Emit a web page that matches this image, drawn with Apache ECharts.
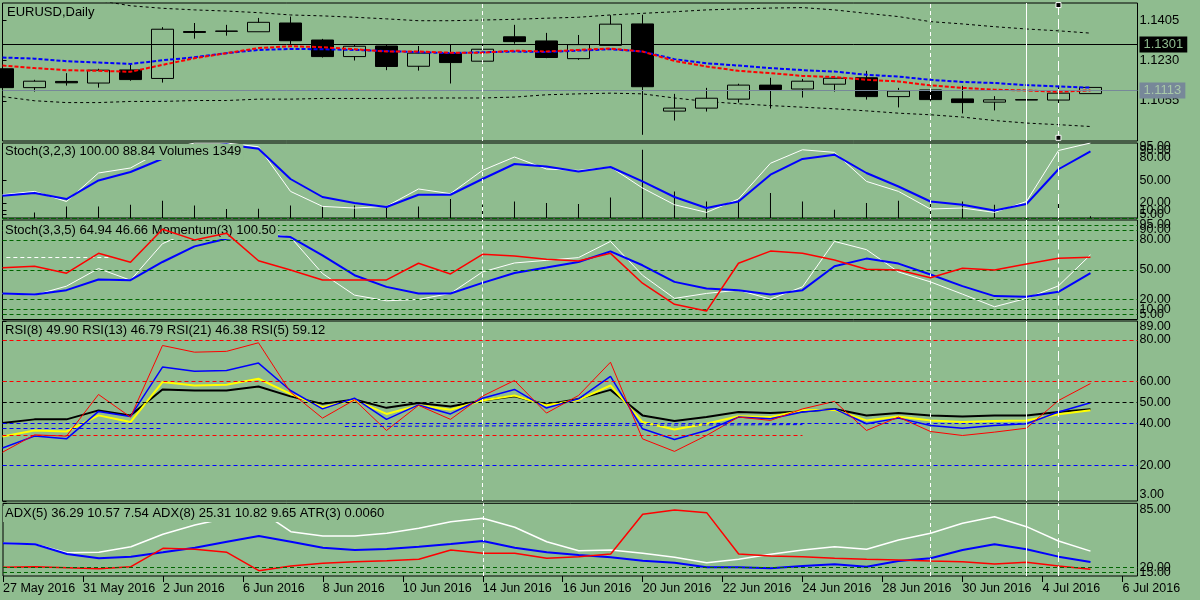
<!DOCTYPE html>
<html>
<head>
<meta charset="utf-8">
<script src="https://cdn.jsdelivr.net/npm/echarts@6/dist/echarts.min.js"></script>
<style>
  html, body { margin: 0; padding: 0; background: #8fbc8f; }
  #chart { width: 1200px; height: 600px; }
</style>
</head>
<body>
<div id="chart"></div>
<script>
// ---- data (one entry per daily bar) ----
const dateLabels = ["27 May 2016", "31 May 2016", "2 Jun 2016", "6 Jun 2016", "8 Jun 2016",
  "10 Jun 2016", "14 Jun 2016", "16 Jun 2016", "20 Jun 2016", "22 Jun 2016", "24 Jun 2016",
  "28 Jun 2016", "30 Jun 2016", "4 Jul 2016", "6 Jul 2016"];

const opens  = [1.1194, 1.1112, 1.1139, 1.1132, 1.1189, 1.1152, 1.1356, 1.1358, 1.1355, 1.1393,
  1.1319, 1.1247, 1.1293, 1.1205, 1.1260, 1.1227, 1.1333, 1.1315, 1.1238, 1.1296,
  1.1389, 1.1010, 1.1023, 1.1062, 1.1123, 1.1106, 1.1127, 1.1155, 1.1073, 1.1102,
  1.1063, 1.1049, 1.1058, 1.1058, 1.1086];
const closes = [1.1112, 1.1140, 1.1133, 1.1188, 1.1147, 1.1366, 1.1352, 1.1357, 1.1396, 1.1316,
  1.1247, 1.1292, 1.1204, 1.1262, 1.1221, 1.1279, 1.1312, 1.1243, 1.1299, 1.1388,
  1.1116, 1.1023, 1.1066, 1.1123, 1.1104, 1.1140, 1.1153, 1.1073, 1.1097, 1.1060,
  1.1047, 1.1059, 1.1060, 1.1088, 1.1113];
const lows   = [1.1105, 1.1095, 1.1121, 1.1112, 1.1142, 1.1134, 1.1325, 1.1338, 1.1355, 1.1302,
  1.1243, 1.1230, 1.1188, 1.1186, 1.1130, 1.1224, 1.1303, 1.1240, 1.1233, 1.1296,
  1.0907, 1.0969, 1.1008, 1.1047, 1.1021, 1.1069, 1.1095, 1.1060, 1.1026, 1.1055,
  1.1000, 1.1013, 1.1049, 1.1040, 1.1086];
const highs  = [1.1198, 1.1146, 1.1175, 1.1194, 1.1218, 1.1375, 1.1393, 1.1385, 1.1415, 1.1421,
  1.1324, 1.1301, 1.1301, 1.1293, 1.1301, 1.1298, 1.1385, 1.1350, 1.1341, 1.1427,
  1.1429, 1.1085, 1.1111, 1.1129, 1.1155, 1.1150, 1.1163, 1.1185, 1.1111, 1.1106,
  1.1120, 1.1075, 1.1123, 1.1117, 1.1113];

const maBlue = [1.1243, 1.1238, 1.1227, 1.1221, 1.1215, 1.1231, 1.1244, 1.1262, 1.1276, 1.1280,
  1.1279, 1.1276, 1.1271, 1.1266, 1.1262, 1.1266, 1.1269, 1.1267, 1.1273, 1.1279,
  1.1269, 1.1236, 1.1218, 1.1208, 1.1197, 1.1188, 1.1182, 1.1168, 1.1160, 1.1146,
  1.1137, 1.1132, 1.1123, 1.1117, 1.1112];
const maRed  = [1.1208, 1.1197, 1.1188, 1.1185, 1.1181, 1.1211, 1.1240, 1.1262, 1.1284, 1.1292,
  1.1288, 1.1279, 1.1269, 1.1269, 1.1264, 1.1264, 1.1273, 1.1269, 1.1276, 1.1282,
  1.1269, 1.1228, 1.1204, 1.1185, 1.1175, 1.1163, 1.1158, 1.1146, 1.1139, 1.1122,
  1.1111, 1.1103, 1.1100, 1.1094, 1.1100];
const bandUp = [1.1528, 1.1515, 1.1504, 1.1491, 1.1468, 1.1457, 1.1450, 1.1445, 1.1438, 1.1428,
  1.1424, 1.1418, 1.1411, 1.1403, 1.1403, 1.1406, 1.1409, 1.1414, 1.1418, 1.1428,
  1.1435, 1.1442, 1.1450, 1.1454, 1.1458, 1.1460, 1.1450, 1.1435, 1.1421, 1.1399,
  1.1389, 1.1377, 1.1367, 1.1359, 1.1349];
const bandDn = [1.1073, 1.1055, 1.1047, 1.1047, 1.1052, 1.1052, 1.1056, 1.1056, 1.1062, 1.1062,
  1.1065, 1.1065, 1.1065, 1.1067, 1.1067, 1.1067, 1.1071, 1.1081, 1.1085, 1.1088,
  1.1085, 1.1067, 1.1052, 1.1042, 1.1034, 1.1027, 1.1020, 1.1011, 1.1001, 1.0994,
  1.0984, 1.0969, 1.0958, 1.0951, 1.0943];

const stochFastK = [31, 35.5, 22, 60, 66.7, 90, 100, 100, 95, 35.5, 15.5, 13.3, 15.5, 38.7, 32.4,
  63.5, 81.3, 65.3, 63.5, 68, 40, 17.7, 7.5, 25.3, 73, 91, 87.5, 48.8, 35.5, 12,
  13.3, 7.5, 22, 90, 100];
const stochFastD = [29.7, 33.3, 25.3, 50.1, 61.3, 79, 95, 98, 92.4, 52, 28, 20, 14.7, 31, 31,
  52, 72, 68.8, 62, 68, 48.8, 28, 13.3, 22, 57.7, 78.7, 84.4, 60, 42, 22,
  17.7, 10, 18.7, 65, 88.84];
const volumes = [4000, 4500, 9300, 9300, 10600, 13800, 10100, 7200, 7400, 10100, 9300, 10100,
  9300, 9300, 15200, 10600, 13300, 12000, 11200, 16500, 54600, 21300, 13300, 14600, 20000,
  13300, 6600, 12000, 13800, 11200, 13300, 10600, 12000, 12000, 1349];

const stochSlowK = [26.2, 24.5, 33.5, 51.2, 39.5, 76.2, 90, 92, 88, 82.8, 46.2, 24.5, 18.8, 20.2,
  26.2, 47.8, 56.8, 59.5, 62.2, 78.5, 44.5, 21.2, 26.2, 29.5, 20.5, 32.8, 78.5, 70.2, 47.8,
  37.8, 25.5, 12.8, 21.2, 33.8, 64.94];
const stochSlowD = [26.2, 25.2, 29.5, 40.2, 39.5, 57.8, 73.5, 81.2, 85, 82.8, 64.5, 44.5, 32.8,
  26.2, 26.2, 36.8, 46.8, 52.2, 57.8, 68.5, 54.5, 37.8, 31.2, 29.5, 25.2, 29.5, 53.5, 61.2,
  56.2, 45.2, 33.5, 23.5, 22.8, 27.8, 46.66];
const momentum = [100.08, 100.14, 99.86, 100.66, 100.30, 101.63, 101.20, 101.47, 100.36, 99.99,
  99.59, 99.59, 99.59, 100.26, 99.83, 100.62, 100.55, 100.42, 100.35, 100.66, 99.46, 98.61,
  98.34, 100.26, 100.75, 100.66, 100.39, 100.02, 99.99, 99.68, 100.06, 99.99, 100.23, 100.46,
  100.50];

const rsi5  = [26.3, 34.6, 34.0, 53.9, 43.1, 77.3, 74.1, 74.5, 78.6, 55.0, 42.6, 51.3, 36.7, 48.7,
  42.0, 53.1, 60.6, 45.0, 53.4, 69.3, 32.7, 26.7, 34.3, 43.1, 41.5, 47.0, 50.6, 36.7, 43.1,
  36.2, 34.3, 35.9, 37.8, 51.0, 59.12];
const rsi8  = [28.3, 34.0, 32.7, 45.8, 43.4, 67.0, 65.0, 65.4, 68.9, 55.8, 47.0, 52.1, 42.0, 48.9,
  44.6, 52.1, 56.3, 47.4, 51.8, 62.5, 37.5, 32.4, 36.7, 43.1, 42.3, 45.5, 47.0, 39.9, 42.6,
  39.1, 37.8, 39.1, 39.9, 45.5, 49.90];
const rsi13 = [40.3, 42.0, 42.0, 46.3, 43.9, 56.3, 55.8, 55.8, 57.7, 53.0, 49.4, 51.5, 47.5, 49.8,
  48.2, 51.0, 53.0, 49.1, 51.8, 56.1, 43.9, 41.2, 43.1, 45.5, 45.0, 45.8, 47.0, 43.9, 45.0,
  43.9, 43.4, 43.9, 43.9, 45.5, 46.79];
const rsi21 = [33.8, 36.7, 36.2, 43.9, 40.7, 59.8, 58.2, 58.5, 61.4, 54.2, 47.8, 51.3, 44.6, 48.7,
  46.6, 51.0, 53.4, 48.7, 51.3, 58.2, 40.7, 37.2, 39.9, 43.5, 43.1, 46.3, 46.6, 41.5, 43.4,
  41.5, 40.7, 41.2, 41.5, 44.4, 46.38];

const adx5  = [44.3, 43.3, 34.7, 35.1, 40.8, 53.5, 62.9, 70, 78, 56.1, 51.7, 51.7, 54.5, 59.6,
  66.3, 69.8, 60.6, 45.9, 36.8, 37.5, 34.1, 30.0, 24.5, 28.0, 33.1, 37.5, 40.8, 38.2, 47.7,
  54.5, 64.7, 71.4, 61.2, 46.6, 36.29];
const adx8  = [44.3, 43.3, 33.4, 29.0, 30.7, 35.1, 39.8, 45.9, 51.7, 45.9, 39.8, 37.5, 38.5, 40.8,
  43.6, 46.6, 39.8, 35.1, 32.4, 30.0, 26.6, 24.5, 19.9, 19.9, 18.8, 21.2, 22.9, 20.5, 26.3,
  29.0, 37.5, 43.3, 38.2, 30.7, 25.31];
const atr3  = [19.9, 20.5, 19.5, 18.4, 20.5, 39.2, 38.2, 35.1, 16.4, 21.2, 23.9, 25.6, 26.6, 28.0,
  37.5, 34.1, 34.1, 29.0, 30.7, 33.4, 73.8, 78.2, 75.5, 33.4, 31.4, 30.7, 29.0, 28.0, 27.3,
  26.3, 25.6, 23.2, 25.0, 21.2, 17.8];

// ---- chart ----
const BG = "#8fbc8f";
const FONT = "Liberation Sans, Arial, sans-serif";
const XMAX = 35.47;

const chartDom = document.getElementById("chart");
const myChart = echarts.init(chartDom, null, { renderer: "canvas" });

const xy = (arr) => arr.map((v, i) => [i, v]);

const grids = [
  { top: 3, height: 138 },
  { top: 143, height: 75 },
  { top: 220, height: 99.5 },
  { top: 321, height: 180 },
  { top: 503.3, height: 72.7 },
].map((g) => ({
  left: 2.5, width: 1135, top: g.top, height: g.height,
  show: true, borderColor: "#000", borderWidth: 1, backgroundColor: "transparent",
}));

const xAxes = grids.map((g, i) => ({
  type: "value", gridIndex: i, min: 0, max: XMAX, interval: 2.5,
  axisLine: { show: false },
  splitLine: { show: false },
  axisTick: { show: i === 4, length: 6, lineStyle: { color: "#000" } },
  axisLabel: {
    show: i === 4, align: "left", margin: 6, showMaxLabel: false,
    color: "#000", fontSize: 12.5, fontFamily: FONT,
    formatter: (v) => {
      const k = v / 2.5;
      const r = Math.round(k);
      return Math.abs(k - r) < 1e-6 ? dateLabels[r] || "" : "";
    },
  },
}));

// right-hand scale with terminal-style labels (min/max labels pushed inside)
function rightAxis(gridIndex, min, max, values, digits, size) {
  return {
    type: "value", gridIndex, position: "right", min, max,
    axisLine: { show: false },
    splitLine: { show: false },
    axisTick: { show: true, length: 4, customValues: values, lineStyle: { color: "#000" } },
    axisLabel: {
      customValues: values, margin: 2, color: "#000", fontSize: size || 12.5, fontFamily: FONT,
      formatter: (v) => {
        const t = v.toFixed(digits);
        if (Math.abs(v - max) < 1e-9) return "{mx|" + t + "}";
        if (Math.abs(v - min) < 1e-9) return "{mn|" + t + "}";
        return t;
      },
      rich: {
        mx: { padding: [12, 0, 0, 0] },
        mn: { padding: [0, 0, 12, 0] },
      },
    },
  };
}

const yAxes = [
  rightAxis(0, 1.088, 1.148, [1.1055, 1.123, 1.1405], 4, 13),
  rightAxis(1, 0, 100, [0, 5, 10, 20, 50, 80, 90, 95, 100], 2),
  { type: "value", gridIndex: 1, min: 0, max: 60000, show: false },
  rightAxis(2, 0, 100, [0, 5, 10, 20, 50, 80, 90, 95, 100], 2),
  { type: "value", gridIndex: 2, min: 98, max: 102, show: false },
  rightAxis(3, 3, 89, [3, 20, 40, 50, 60, 80, 89], 2),
  rightAxis(4, 11, 85, [11, 15, 20, 85], 2),
];

// vertical marker lines shared by every pane
const vLines = [
  { xAxis: 15, lineStyle: { color: "#fff", type: [4, 3], width: 1 } },
  { xAxis: 29, lineStyle: { color: "#fff", type: [4, 3], width: 1 } },
  { xAxis: 32, lineStyle: { color: "#fff", type: "solid", width: 1 } },
  { xAxis: 33, lineStyle: { color: "#fff", type: [10, 4], width: 1 } },
];

function levels(vals, color, type) {
  return vals.map((v) => ({ yAxis: v, lineStyle: { color, type: type || [4, 3], width: 1 } }));
}

function markLines(data) {
  return {
    silent: true, symbol: ["none", "none"], animation: false,
    label: { show: false }, emphasis: { disabled: true },
    data,
  };
}

function line(xi, yi, arr, color, width, extra) {
  return Object.assign({
    type: "line", xAxisIndex: xi, yAxisIndex: yi, data: xy(arr),
    symbol: "none", lineStyle: { color, width }, itemStyle: { color },
    animation: false, z: 2,
  }, extra || {});
}

const GREEN_LV = "#006400";

const priceTag = (text, bg, fg) => ({
  show: true, position: "end", distance: 2, formatter: text,
  backgroundColor: bg, color: fg, padding: [2, 4, 1, 4],
  fontSize: 13, fontFamily: FONT,
});

const series = [
  // ---- price pane ----
  line(0, 0, bandUp, "#000", 1, {
    lineStyle: { color: "#000", width: 1, type: [3, 3] }, z: 1,
    markLine: markLines([
      { yAxis: 1.1301, lineStyle: { color: "#000", type: "solid", width: 1 }, label: priceTag("1.1301", "#000", BG) },
      { yAxis: 1.1113, lineStyle: { color: "#778899", type: "solid", width: 1 }, label: priceTag("1.1113", "#778899", "#a9c9a9") },
    ].concat(vLines)),
  }),
  line(0, 0, bandDn, "#000", 1, { lineStyle: { color: "#000", width: 1, type: [3, 3] }, z: 1 }),
  {
    type: "candlestick", xAxisIndex: 0, yAxisIndex: 0, barWidth: 22, z: 2,
    encode: { x: 0, y: [1, 2, 3, 4] },
    data: opens.map((o, i) => [i, o, closes[i], lows[i], highs[i]]),
    itemStyle: { color: BG, color0: "#000", borderColor: "#000", borderColor0: "#000", borderWidth: 1 },
    animation: false,
    markPoint: {
      symbol: "rect", symbolSize: 5, silent: true, animation: false,
      label: { show: false },
      itemStyle: { color: "#000", borderColor: "#fff", borderWidth: 1 },
      data: [{ coord: [33, 1.1471] }, { coord: [33, 1.0894] }],
    },
  },
  line(0, 0, maBlue, "#0000ff", 2, { lineStyle: { color: "#0000ff", width: 2, type: [4, 2] }, z: 3 }),
  line(0, 0, maRed, "#ff0000", 2, { lineStyle: { color: "#ff0000", width: 2, type: [4, 2] }, z: 3 }),

  // ---- Stoch(3,2,3) + Volumes ----
  {
    type: "bar", xAxisIndex: 1, yAxisIndex: 2, data: xy(volumes), barWidth: 1,
    itemStyle: { color: "#000" }, animation: false, z: 2,
    markLine: markLines(levels([95, 90, 80, 50, 20, 10, 5], GREEN_LV).concat(vLines)),
  },
  line(1, 1, stochFastK, "#fff", 1),
  line(1, 1, stochFastD, "#0000ff", 2),

  // ---- Stoch(3,3,5) + Momentum(3) ----
  line(2, 3, stochSlowK, "#fff", 1, {
    markLine: markLines(levels([95, 90, 80, 50, 20, 10, 5], GREEN_LV).concat(vLines).concat([
      [
        { coord: [0.12, 62.2], lineStyle: { color: "#fff", type: [4, 3], width: 1 } },
        { coord: [3.4, 62.2] },
      ],
    ])),
  }),
  line(2, 3, stochSlowD, "#0000ff", 2),
  line(2, 4, momentum, "#ff0000", 1.5, { z: 10 }),

  // ---- RSI pane ----
  line(3, 5, rsi13, "#000", 2, {
    markLine: markLines([]
      .concat(levels([80, 60], "#ff0000"))
      .concat(levels([50], "#000"))
      .concat(levels([40, 20], "#0000ff"))
      .concat([
        [{ coord: [0, 34.3], lineStyle: { color: "#ff0000", type: [4, 3], width: 1 } }, { coord: [25, 34.3] }],
        [{ coord: [0, 37.8], lineStyle: { color: "#0000ff", type: [4, 3], width: 1 } }, { coord: [5, 37.8] }],
        [{ coord: [10.7, 38.6], lineStyle: { color: "#0000ff", type: [4, 3], width: 1 } }, { coord: [25, 39.5] }],
      ])
      .concat(vLines)),
  }),
  line(3, 5, rsi21, "#ffff00", 2),
  line(3, 5, rsi8, "#0000ff", 1.5),
  line(3, 5, rsi5, "#ff0000", 1),

  // ---- ADX / ATR pane ----
  line(4, 6, adx5, "#fff", 1.5, {
    markLine: markLines(levels([20, 15], GREEN_LV).concat(vLines)),
  }),
  line(4, 6, adx8, "#0000ff", 2),
  line(4, 6, atr3, "#ff0000", 1.5),
];

// pane captions; the opaque box hides the lines under it, as in the terminal
const captions = [
  ["EURUSD,Daily", 5, 5, false],
  ["Stoch(3,2,3) 100.00 88.84 Volumes 1349", 3, 144, true],
  ["Stoch(3,3,5) 64.94 46.66 Momentum(3) 100.50", 3, 223, true],
  ["RSI(8) 49.90 RSI(13) 46.79 RSI(21) 46.38 RSI(5) 59.12", 3, 323, true],
  ["ADX(5) 36.29 10.57 7.54 ADX(8) 25.31 10.82 9.65 ATR(3) 0.0060", 3, 506, true],
];

const option = {
  backgroundColor: BG,
  animation: false,
  title: captions.map(([text, left, top, box]) => ({
    text, left, top, padding: [1, 2, 2, 2],
    backgroundColor: box ? BG : "transparent",
    textStyle: { color: "#000", fontSize: 13, fontWeight: "normal", fontFamily: FONT },
  })),
  grid: grids,
  xAxis: xAxes,
  yAxis: yAxes,
  series,
};

myChart.setOption(option);
</script>
</body>
</html>
